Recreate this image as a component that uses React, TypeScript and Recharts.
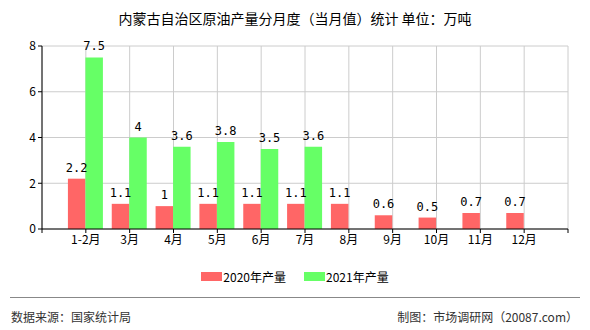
import React from 'react';
import { BarChart, Bar, XAxis, YAxis, CartesianGrid, LabelList } from 'recharts';

const categories = ['1-2月', '3月', '4月', '5月', '6月', '7月', '8月', '9月', '10月', '11月', '12月'];
const output2020 = [2.2, 1.1, 1.0, 1.1, 1.1, 1.1, 1.1, 0.6, 0.5, 0.7, 0.7];
const output2021: (number | null)[] = [7.5, 4.0, 3.6, 3.8, 3.5, 3.6, null, null, null, null, null];
const yTicks = [0, 2, 4, 6, 8];
const xTicks = [0, 1, 2, 3, 4, 5, 6, 7, 8, 9, 10, 11, 12];

const data = categories.map((c, i) => ({ x: i + 1, name: c, a: output2020[i], b: output2021[i] }));

const FONT = '"Noto Sans CJK SC", "DejaVu Sans", sans-serif';
const LABEL_FONT = '"DejaVu Sans Mono", monospace';

const fmtX = (v: number) => (v >= 1 && v <= categories.length ? categories[v - 1] : '');

export default function App() {
  return (
    <div style={{ position: 'absolute', left: 0, top: 0, width: 590, height: 330, background: '#fff', fontFamily: FONT }}>
      <div style={{ position: 'absolute', top: 8, left: 0, width: 590, textAlign: 'center', fontSize: 14, color: '#000' }}>
        内蒙古自治区原油产量分月度（当月值）统计 单位：万吨
      </div>
      <BarChart
        width={590}
        height={330}
        data={data}
        margin={{ top: 46, right: 22, bottom: 71, left: 12 }}
        barGap={0}
        barSize={17.5}
      >
        <CartesianGrid stroke="#cccccc" strokeWidth={1} />
        <XAxis
          type="number"
          dataKey="x"
          domain={[0, 12]}
          ticks={xTicks}
          tickFormatter={fmtX}
          interval={0}
          stroke="#000"
          tickLine={{ stroke: '#000' }}
          tickSize={4}
          tick={{ fill: '#000', fontSize: 12, fontFamily: FONT }}
          height={30}
        />
        <YAxis
          domain={[0, 8]}
          ticks={yTicks}
          stroke="#000"
          tickSize={4}
          tick={{ fill: '#000', fontSize: 12, fontFamily: FONT }}
          width={30}
        />
        <Bar dataKey="a" name="2020年产量" fill="#FF6666" isAnimationActive={false}>
          <LabelList dataKey="a" position="top" offset={7} style={{ fill: '#000', fontSize: 12, fontFamily: LABEL_FONT }} />
        </Bar>
        <Bar dataKey="b" name="2021年产量" fill="#66FF66" isAnimationActive={false}>
          <LabelList dataKey="b" position="top" offset={7} style={{ fill: '#000', fontSize: 12, fontFamily: LABEL_FONT }} />
        </Bar>
      </BarChart>
      <div style={{ position: 'absolute', top: 268, left: 0, width: 590, display: 'flex', justifyContent: 'center', fontSize: 12, color: '#000' }}>
        <div style={{ display: 'flex', alignItems: 'center', marginRight: 18 }}>
          <span style={{ display: 'inline-block', width: 21, height: 9, background: '#FF6666', marginRight: 1 }} />
          <span>2020年产量</span>
        </div>
        <div style={{ display: 'flex', alignItems: 'center' }}>
          <span style={{ display: 'inline-block', width: 21, height: 9, background: '#66FF66', marginRight: 1 }} />
          <span>2021年产量</span>
        </div>
      </div>
      <div style={{ position: 'absolute', top: 297, left: 10, width: 570, height: 1, background: '#888' }} />
      <div style={{ position: 'absolute', top: 308, left: 11, fontSize: 12, color: '#333' }}>数据来源：国家统计局</div>
      <div style={{ position: 'absolute', top: 308, right: 12, fontSize: 12, color: '#333' }}>制图：市场调研网（20087.com）</div>
    </div>
  );
}
